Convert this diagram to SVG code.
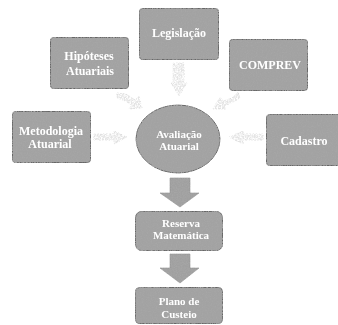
<svg xmlns="http://www.w3.org/2000/svg" width="338" height="325" viewBox="0 0 338 325">
<style>
.n{fill:#a2a2a2;stroke:#666;stroke-width:1}
.t{font-family:"Liberation Serif",serif;font-weight:bold;fill:#fff;text-anchor:middle;font-size:12px}
.s{font-size:11px}
.a{fill:#e4e4e4;stroke:#dcdcdc;stroke-width:1;stroke-dasharray:2 1}
.d{fill:#a0a0a0;stroke:#8a8a8a;stroke-width:.6}
</style>
<defs>
<filter id="g" x="-5%" y="-5%" width="110%" height="110%">
<feTurbulence type="fractalNoise" baseFrequency=".8" numOctaves="2" seed="4" result="x"/>
<feColorMatrix in="x" type="matrix" values="0 0 0 0 .38  0 0 0 0 .38  0 0 0 0 .38  2.6 0 0 0 -.95" result="y"/>
<feComposite in="y" in2="SourceGraphic" operator="atop"/>
</filter>
<filter id="l" x="-15%" y="-15%" width="130%" height="130%">
<feTurbulence type="fractalNoise" baseFrequency=".7" numOctaves="2" seed="9" result="x"/>
<feColorMatrix in="x" type="matrix" values="0 0 0 0 1  0 0 0 0 1  0 0 0 0 1  3 0 0 0 -1.1" result="y"/>
<feComposite in="y" in2="SourceGraphic" operator="atop"/>
</filter>
<filter id="b"><feGaussianBlur stdDeviation=".45"/></filter>
</defs>
<rect width="338" height="325" fill="#fff"/>
<g id="connectors">
<path class="a" filter="url(#l)" d="M173 63h11v20h3l-8 13-8-13h2z"/>
<path class="a" filter="url(#l)" d="M117 93l9 1 9 6 4-4 3 12-13 1 3-4-9-5-6-2z"/>
<path class="a" filter="url(#l)" d="M238 92l-6 6-9 3-3-4-7 12 13 0-2-3 9-4 7-4z"/>
<path class="a" filter="url(#l)" d="M94 134h20v-3l13 6-13 7v-4h-20z"/>
<path class="a" filter="url(#l)" d="M263 134h-20v-3l-14 6 14 7v-4h20z"/>
<path class="d" d="M170 178h20v15h9l-19 14-20-14h10z" filter="url(#g)"/>
<path class="d" d="M170 254h20v14h9l-19 15-20-15h10z" filter="url(#g)"/>
</g>
<g id="legislacao"><rect class="n" x="139.500" y="8.500" width="79" height="51" rx="3" filter="url(#g)"/><text class="t" x="179" y="37" filter="url(#b)">Legislação</text></g>
<g id="hipoteses"><rect class="n" x="50.500" y="37.500" width="78" height="51" rx="3" filter="url(#g)"/><text class="t" x="89" y="60" filter="url(#b)">Hipóteses</text><text class="t" x="90" y="75" filter="url(#b)">Atuariais</text></g>
<g id="comprev"><rect class="n" x="229.500" y="39.500" width="78" height="51" rx="3" filter="url(#g)"/><text class="t" x="270" y="69" filter="url(#b)">COMPREV</text></g>
<g id="metodologia"><rect class="n" x="12.500" y="111.500" width="78" height="51" rx="3" filter="url(#g)"/><text class="t" x="51" y="135" filter="url(#b)">Metodologia</text><text class="t" x="50" y="148" filter="url(#b)">Atuarial</text></g>
<g id="avaliacao"><ellipse class="n" cx="178" cy="139" rx="42" ry="34" filter="url(#g)"/><text class="t s" x="179" y="138" filter="url(#b)">Avaliação</text><text class="t s" x="179" y="150" filter="url(#b)">Atuarial</text></g>
<g id="cadastro"><rect class="n" x="266.500" y="114.500" width="75" height="51" rx="3" filter="url(#g)"/><text class="t" x="304" y="145" filter="url(#b)">Cadastro</text></g>
<g id="reserva"><rect class="n" x="135.500" y="211.500" width="87" height="39" rx="6" filter="url(#g)"/><text class="t s" x="181" y="227" filter="url(#b)">Reserva</text><text class="t s" x="181" y="239" filter="url(#b)">Matemática</text></g>
<g id="plano"><rect class="n" x="135.500" y="287.500" width="87" height="36" rx="4" filter="url(#g)"/><text class="t s" x="179" y="305" filter="url(#b)">Plano de</text><text class="t s" x="179" y="318" filter="url(#b)">Custeio</text></g>
</svg>
